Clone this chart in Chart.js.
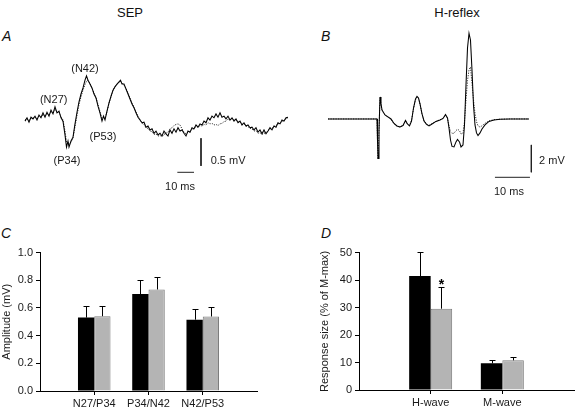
<!DOCTYPE html>
<html><head><meta charset="utf-8">
<script src="https://cdn.jsdelivr.net/npm/chart.js@4.4.1/dist/chart.umd.min.js"></script>
<style>
html,body{margin:0;padding:0;background:#fff;}
#wrap{position:relative;width:576px;height:408px;overflow:hidden;font-family:"Liberation Sans",Arial,sans-serif;color:#111;}
canvas{position:absolute;}
.t{position:absolute;font-size:13px;white-space:nowrap;line-height:13px;transform:translateX(-50%);}
.l{position:absolute;font-size:14px;font-style:italic;line-height:14px;}
</style></head><body>
<div id="wrap">
<div class="t" style="left:130px;top:6px">SEP</div>
<div class="t" style="left:457px;top:6px">H-reflex</div>
<div class="l" style="left:2px;top:29px">A</div>
<div class="l" style="left:321px;top:29px">B</div>
<div class="l" style="left:1px;top:226px">C</div>
<div class="l" style="left:321px;top:226px">D</div>
<canvas id="cA" width="290" height="160" style="left:0;top:40px"></canvas>
<canvas id="cB" width="286" height="180" style="left:290px;top:20px"></canvas>
<canvas id="cC" width="290" height="208" style="left:0;top:200px"></canvas>
<canvas id="cD" width="286" height="208" style="left:290px;top:200px"></canvas>
</div>
<script>
// ---------- Panel A: SEP traces (time in ms, amplitude in mV, up = displayed up) ----------
const sepTime = [0,1.2,2.4,3.6,4.8,6,7.2,8.4,9.6,10.8,12,13.2,14.4,15.6,16.8,18,19.2,20.4,21.6,22.8,
24,24.9,25.8,26.4,27.6,28.8,30,31.2,32.4,33.6,34.8,36,36.9,37.8,39,40.2,41.4,42.6,43.8,45,46.2,47.1,48,49.2,50.4,51.6,52.8,54,55.2,56.4,57.3,58.2,59.4,60.6,61.8,63,64.2,65.4,66.6,67.8,69,
70.2,71.4,72.6,73.8,75,76.2,77.4,78.6,79.8,81,82.2,83.4,84.6,85.8,87,88.2,89.4,90.6,91.8,93,94.2,95.4,96.6,97.8,99,100.2,101.4,102.6,103.8,105,106.2,107.4,108.6,109.8,111,112.2,113.4,114.6,115.8,117,118.2,119.4,120.6,121.8,123,124.2,125.4,126.6,127.8,129,130.2,131.4,132.6,133.8,135,136.2,137.4,138.6,139.8,141,142.2,143.4,144.6,145.8,147,148.2,149.4,150.6,151.8,153,154.2,155.4,156.6,157.8];
const sepSolid = [-0.02,0.04,-0.04,0.05,0.02,0.07,0,0.09,0.04,0.13,0.05,0.14,0.07,0.18,0.11,0.24,0.13,0.16,0.04,-0.02,
-0.27,-0.49,-0.38,-0.49,-0.38,-0.31,-0.07,0.14,0.33,0.47,0.58,0.72,0.80,0.72,0.65,0.58,0.47,0.40,0.25,0.13,-0.02,0.07,0,0.16,0.31,0.43,0.54,0.60,0.65,0.69,0.72,0.65,0.65,0.56,0.47,0.38,0.29,0.22,0.13,0.05,0,
-0.05,-0.04,-0.13,-0.11,-0.18,-0.16,-0.24,-0.20,-0.27,-0.24,-0.29,-0.20,-0.25,-0.29,-0.18,-0.24,-0.16,-0.22,-0.14,-0.20,-0.18,-0.24,-0.29,-0.20,-0.22,-0.14,-0.16,-0.09,-0.13,-0.07,-0.09,-0.02,-0.05,0.04,0,0.07,0.04,0.11,0.05,0.13,0.05,0.07,0.02,0.07,0,0.04,-0.02,0.02,-0.05,-0.02,-0.09,-0.05,-0.11,-0.09,-0.14,-0.13,-0.18,-0.14,-0.22,-0.18,-0.25,-0.18,-0.25,-0.20,-0.14,-0.18,-0.11,-0.13,-0.05,-0.07,0,-0.02,0.04,0.05];
const sepDotted = [0,0.02,-0.01,0.04,0.03,0.05,0.02,0.07,0.05,0.10,0.07,0.12,0.09,0.15,0.12,0.20,0.14,0.14,0.06,0,
-0.20,-0.40,-0.40,-0.44,-0.40,-0.33,-0.12,0.08,0.28,0.42,0.54,0.64,0.70,0.72,0.66,0.57,0.49,0.41,0.28,0.15,0.03,0.05,0.04,0.15,0.30,0.42,0.53,0.61,0.64,0.68,0.70,0.67,0.63,0.57,0.49,0.40,0.31,0.23,0.15,0.07,0.01,
-0.06,-0.08,-0.14,-0.15,-0.20,-0.21,-0.26,-0.25,-0.29,-0.28,-0.30,-0.26,-0.24,-0.22,-0.16,-0.14,-0.10,-0.08,-0.07,-0.09,-0.16,-0.22,-0.25,-0.22,-0.21,-0.17,-0.16,-0.12,-0.13,-0.10,-0.11,-0.08,-0.09,-0.05,-0.07,-0.06,-0.09,-0.08,-0.10,-0.07,-0.06,-0.03,-0.02,0.02,0,0.03,0,0.01,-0.04,-0.03,-0.08,-0.07,-0.11,-0.12,-0.15,-0.16,-0.20,-0.19,-0.24,-0.23,-0.26,-0.24,-0.23,-0.19,-0.16,-0.15,-0.12,-0.10,-0.07,-0.06,-0.03,-0.01,0.02,0.04];
const sepPeakLabels = ['(N27)','(N42)','(P34)','(P53)'];
const sepBarMV = 0.5, sepBarMS = 10;

// ---------- Panel B: H-reflex traces (ms, mV) ----------
const hrTime = [0,14,14.14,14.29,14.57,14.86,15.14,15.43,16.29,17.14,18,18.86,19.71,20.57,21.43,22.14,22.71,23.29,23.86,24.43,25,25.43,25.86,26.29,26.86,27.43,28.14,28.86,29.71,30.86,32,32.86,33.57,34.14,34.57,35,35.43,36,36.57,37,37.57,38,38.57,39,39.43,39.86,40.29,40.71,41.14,41.57,42,42.43,42.86,43.43,44,44.86,46,47.43,49.14,52,57.43];
const hrSolid = [0,0,-1.54,-2.89,-0.80,1.61,1.10,0.66,0.29,0.15,0,-0.33,-0.51,-0.59,-0.48,-0.11,-0.37,-0.51,-0.15,0.80,1.46,1.65,1.54,1.10,0.37,-0.15,-0.40,-0.51,-0.37,-0.18,-0.07,0.04,0.33,0.07,-0.66,-1.54,-2.01,-2.05,-1.68,-1.50,-1.68,-2.05,-1.90,-0.44,2.49,5.19,6.27,5.78,3.58,1.02,-0.44,-1.02,-1.21,-1.02,-0.73,-0.44,-0.18,-0.07,-0.02,0,0];
const hrDotted = [0,0,-1.6,-2.95,-0.9,1.55,1.05,0.62,0.27,0.12,-0.02,-0.35,-0.53,-0.60,-0.47,-0.15,-0.38,-0.48,-0.12,0.75,1.40,1.60,1.50,1.08,0.38,-0.12,-0.36,-0.47,-0.35,-0.17,-0.06,0.03,0.27,0.05,-0.50,-0.95,-1.05,-1.05,-0.85,-0.75,-0.85,-1.10,-1.05,-0.20,1.40,2.80,3.60,3.80,2.60,1.40,0.40,-0.20,-0.50,-0.60,-0.50,-0.32,-0.14,-0.05,-0.02,0,0];
const hrBarMV = 2, hrBarMS = 10;

// ---------- Panel C: SEP amplitudes ----------
const sepCategories = ['N27/P34','P34/N42','N42/P53'];
const sepBlack = [0.53,0.70,0.515];
const sepBlackErr = [0.087,0.10,0.077];
const sepGray = [0.54,0.733,0.538];
const sepGrayErr = [0.077,0.09,0.067];
const sepTicks = [0,0.2,0.4,0.6,0.8,1.0];

// ---------- Panel D: H / M wave sizes ----------
const hmCategories = ['H-wave','M-wave'];
const hmBlack = [41.5,9.7];
const hmBlackErr = [8.9,1.1];
const hmGray = [29.6,10.8];
const hmGrayErr = [7.8,1.1];
const hmTicks = [0,10,20,30,40,50];

const FONT = '"Liberation Sans", Arial, sans-serif';
const TXT = '#1a1a1a';

const textPlugin = {
  id:'texts',
  afterDraw(chart, args, opts){
    const {ctx, scales:{x,y}} = chart;
    ctx.save();
    ctx.fillStyle = TXT;
    ctx.font = '11px ' + FONT;
    ctx.textBaseline = 'middle';
    (opts.items||[]).forEach(it=>{
      ctx.textAlign = it.align || 'center';
      ctx.fillText(it.text, x.getPixelForValue(it.x), y.getPixelForValue(it.y));
    });
    ctx.restore();
  }
};

function traceChart(id, time, solid, dotted, bars, xr, yr, items){
  const ds = [
    {data: time.map((t,i)=>({x:t,y:solid[i]})), borderColor:'#000', borderWidth:1.05, pointRadius:0},
    {data: time.map((t,i)=>({x:t,y:dotted[i]})), borderColor:'#333', borderWidth:1, borderDash:[1.2,1.3], pointRadius:0}
  ];
  bars.forEach(b=>ds.push({data:b, borderColor:'#222', borderWidth:1, pointRadius:0}));
  return new Chart(document.getElementById(id), {
    type:'line',
    data:{datasets:ds},
    options:{
      responsive:false, animation:false, layout:{padding:0},
      plugins:{legend:{display:false}, tooltip:{enabled:false}, texts:{items}},
      scales:{
        x:{type:'linear', display:false, min:xr[0], max:xr[1]},
        y:{type:'linear', display:false, min:yr[0], max:yr[1]}
      }
    },
    plugins:[textPlugin]
  });
}

// Panel A
traceChart('cA', sepTime, sepSolid, sepDotted,
  [
    [{x:105.6,y:-0.33},{x:105.6,y:-0.33-sepBarMV}],
    [{x:91.4,y:-0.946},{x:91.4+sepBarMS,y:-0.946}]
  ],
  [-15,159], [-1.447,1.447],
  [
    {text:sepPeakLabels[0], x:17.2, y:0.36},
    {text:sepPeakLabels[1], x:36, y:0.93},
    {text:sepPeakLabels[2], x:25.2, y:-0.75},
    {text:sepPeakLabels[3], x:46.8, y:-0.30},
    {text:sepBarMV+' mV', x:111.4, y:-0.75, align:'left'},
    {text:sepBarMS+' ms', x:93, y:-1.21}
  ]);

// Panel B
traceChart('cB', hrTime, hrSolid, hrDotted,
  [
    [{x:58.1,y:-1.9},{x:58.1,y:-1.9-hrBarMV}],
    [{x:47.7,y:-4.27},{x:47.7+hrBarMS,y:-4.27}]
  ],
  [-10.86,70.86], [-5.93,7.24],
  [
    {text:hrBarMV+' mV', x:60.3, y:-3.07, align:'left'},
    {text:hrBarMS+' ms', x:51.7, y:-5.36}
  ]);

const errPlugin = {
  id:'err',
  afterDatasetsDraw(chart, args, opts){
    const {ctx, scales:{y}} = chart;
    ctx.save();
    ctx.strokeStyle = '#000'; ctx.lineWidth = 1;
    chart.data.datasets.forEach((ds,di)=>{
      const meta = chart.getDatasetMeta(di);
      meta.data.forEach((bar,i)=>{
        const v = ds.data[i].y, e = ds.errorUp[i];
        const x = Math.round(bar.x)+0.5;
        const y0 = y.getPixelForValue(v), y1 = Math.round(y.getPixelForValue(v+e))+0.5;
        ctx.beginPath();
        ctx.moveTo(x,y0); ctx.lineTo(x,y1);
        ctx.moveTo(x-3,y1); ctx.lineTo(x+3,y1);
        ctx.stroke();
        if (opts.star && opts.star.dataset===di && opts.star.index===i){
          ctx.fillStyle = '#000';
          ctx.font = 'bold 14px ' + FONT;
          ctx.textAlign = 'center'; ctx.textBaseline = 'alphabetic';
          ctx.fillText('*', x, y1+1);
        }
      });
    });
    ctx.restore();
  }
};

function barChart(id, cats, bv, be, gv, ge, ticks, titleText, pad, yWidth, xHeight, star){
  const n = cats.length;
  return new Chart(document.getElementById(id), {
    type:'bar',
    data:{datasets:[
      {data: bv.map((v,i)=>({x:i+1,y:v})), errorUp: be, backgroundColor:'#000', borderColor:'#000', borderWidth:0,
       categoryPercentage:0.6, barPercentage:1},
      {data: gv.map((v,i)=>({x:i+1,y:v})), errorUp: ge, backgroundColor:'#b4b4b4', borderColor:'#7c7c7c', borderWidth:1,
       categoryPercentage:0.6, barPercentage:1}
    ]},
    options:{
      responsive:false, animation:false,
      layout:{padding:pad},
      plugins:{legend:{display:false}, tooltip:{enabled:false}, err:{star}},
      scales:{
        x:{type:'linear', min:0, max:n+1, offset:false,
           afterFit:(s)=>{s.height = xHeight;},
           afterBuildTicks:(s)=>{s.ticks = Array.from({length:n+2},(_,i)=>({value:i}));},
           grid:{display:true, drawOnChartArea:false, drawTicks:true, tickLength:4, offset:false,
                 color:(c)=> (c.tick && cats[c.tick.value-1]) ? '#000' : 'rgba(0,0,0,0)'},
           border:{display:true, color:'#000', width:1},
           ticks:{autoSkip:false, maxRotation:0, padding:2, color:TXT, font:{family:FONT, size:11},
                  callback:(v)=> cats[v-1] || ''}
        },
        y:{type:'linear', min:ticks[0], max:ticks[ticks.length-1],
           afterFit:(s)=>{s.width = yWidth;},
           afterBuildTicks:(s)=>{s.ticks = ticks.map(v=>({value:v}));},
           grid:{display:true, drawOnChartArea:false, drawTicks:true, tickLength:4, color:'#000'},
           border:{display:true, color:'#000', width:1},
           ticks:{padding:3, color:TXT, font:{family:FONT, size:11},
                  callback:(v)=> ticks[ticks.length-1] <= 1 ? Number(v).toFixed(1) : String(v)},
           title:{display:true, text:titleText, color:TXT, font:{family:FONT, size:11}, padding:0}
        }
      }
    },
    plugins:[errPlugin]
  });
}

barChart('cC', sepCategories, sepBlack, sepBlackErr, sepGray, sepGrayErr, sepTicks, 'Amplitude (mV)',
  {left:0, top:52.5, right:33, bottom:0}, 40, 17, null);
barChart('cD', hmCategories, hmBlack, hmBlackErr, hmGray, hmGrayErr, hmTicks, 'Response size (% of M-max)',
  {left:28, top:52.7, right:1, bottom:0}, 41, 18, {dataset:1, index:0});
</script>
</body></html>
